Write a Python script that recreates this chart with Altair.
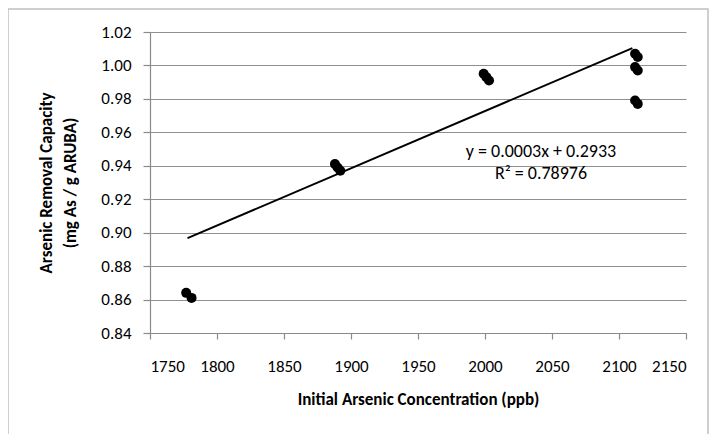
import altair as alt
import pandas as pd

# Data
conc = [1777, 1781, 1888, 1890, 1892, 1999, 2001, 2003, 2112, 2114, 2112, 2114, 2112, 2114]
capacity = [0.864, 0.861, 0.941, 0.939, 0.937, 0.995, 0.993, 0.991, 1.007, 1.005, 0.999, 0.997, 0.979, 0.977]

trend_x = [1778, 2110]
trend_y = [0.8967, 1.0104]

x_ticks = [1750, 1800, 1850, 1900, 1950, 2000, 2050, 2100, 2150]
y_ticks = [0.84, 0.86, 0.88, 0.90, 0.92, 0.94, 0.96, 0.98, 1.00, 1.02]

eq_lines = ["y = 0.0003x + 0.2933", "R\u00b2 = 0.78976"]

FONT = "Carlito, Lato, sans-serif"

pts = pd.DataFrame({"x": conc, "y": capacity})
trend = pd.DataFrame({"x": trend_x, "y": trend_y})

xs = alt.Scale(domain=[1750, 2150], nice=False, zero=False)
ys = alt.Scale(domain=[0.84, 1.02], nice=False, zero=False)

xax = alt.Axis(values=x_ticks, grid=False, title="Initial Arsenic Concentration (ppb)",
               format="d", labelFontSize=17, titleFontSize=17, titleFontWeight="bold",
               labelPadding=19, titlePadding=17, tickSize=6, labelColor="#000", titleColor="#000",
               labelOverlap=False)
yax = alt.Axis(values=y_ticks, grid=True, title=["Arsenic Removal Capacity", "(mg As / g ARUBA)"],
               format=".2f", labelFontSize=17, titleFontSize=17, titleFontWeight="bold",
               labelPadding=12, titlePadding=21, tickSize=7, titleLineHeight=24,
               labelColor="#000", titleColor="#000", labelOverlap=False)

X = alt.X("x:Q", scale=xs, axis=xax)
Y = alt.Y("y:Q", scale=ys, axis=yax)

base_pts = alt.Chart(pts).mark_circle(size=100, color="#000", opacity=1).encode(x=X, y=Y)

line = alt.Chart(trend).mark_line(color="#000", strokeWidth=2).encode(x=X, y=Y)

eq1 = alt.Chart(pd.DataFrame({"t": [eq_lines[0]]})).mark_text(
    font=FONT, fontSize=18, align="center", baseline="middle", color="#000"
).encode(text="t:N", x=alt.value(391), y=alt.value(120))
eq2 = alt.Chart(pd.DataFrame({"t": [eq_lines[1]]})).mark_text(
    font=FONT, fontSize=18, align="center", baseline="middle", color="#000"
).encode(text="t:N", x=alt.value(391), y=alt.value(142))

border = alt.Chart(pd.DataFrame({"a": [0]})).mark_rect(
    fill=None, stroke="#c0c0c0", strokeWidth=1.5
).encode(x=alt.value(-142), x2=alt.value(558), y=alt.value(-23), y2=alt.value(420))

chart = alt.layer(border, line, base_pts, eq1, eq2).properties(
    width=536, height=301,
    autosize=alt.AutoSizeParams(type="none"),
    padding={"left": 142, "top": 24, "right": 23, "bottom": 101},
).configure_view(stroke=None).configure_axis(
    labelFont=FONT, titleFont=FONT, domainColor="#8a8a8a", tickColor="#8a8a8a",
    gridColor="#8f8f8f", gridWidth=1.2, domainWidth=1.2, tickWidth=1.2
)

chart.save("out.html", embed_options={"renderer": "svg", "actions": False})
